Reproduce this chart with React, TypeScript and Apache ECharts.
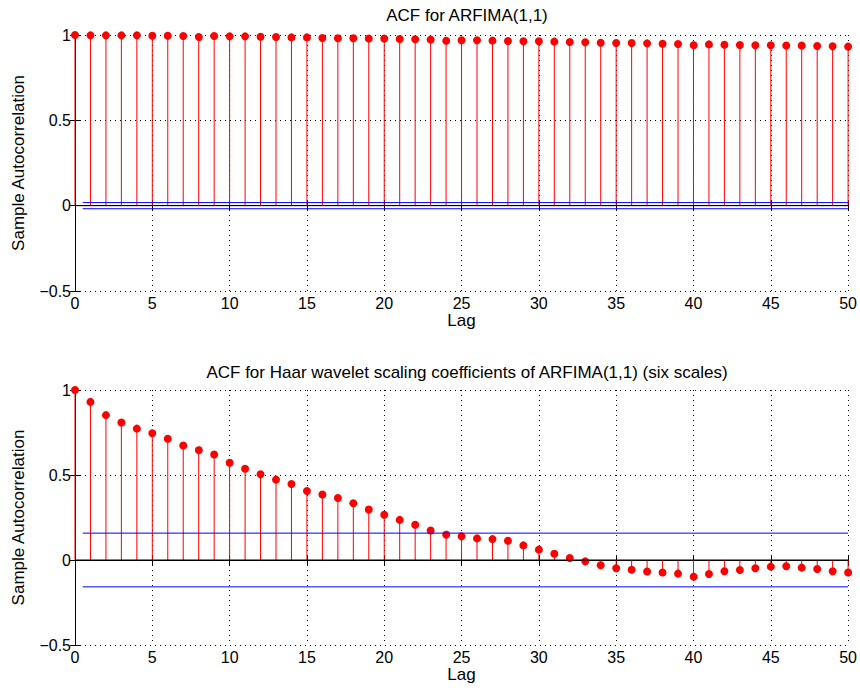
import React, { useEffect, useRef } from "react";
import * as echarts from "echarts";

const lags: number[] = Array.from({ length: 51 }, (_, i) => i);

const acfArfima: number[] = [
  1.0, 0.998, 0.998, 0.998, 0.998, 0.996, 0.996, 0.994, 0.994, 0.994,
  0.992, 0.992, 0.99, 0.988, 0.986, 0.986, 0.982, 0.981, 0.981, 0.979,
  0.979, 0.977, 0.975, 0.973, 0.971, 0.969, 0.969, 0.967, 0.965, 0.963,
  0.963, 0.961, 0.959, 0.957, 0.955, 0.953, 0.953, 0.951, 0.949, 0.947,
  0.947, 0.945, 0.943, 0.941, 0.94, 0.94, 0.938, 0.938, 0.936, 0.934,
  0.932,
];

const acfHaar: number[] = [
  1.0, 0.93, 0.852, 0.809, 0.773, 0.746, 0.713, 0.674, 0.652, 0.621,
  0.572, 0.537, 0.504, 0.473, 0.447, 0.406, 0.385, 0.365, 0.334, 0.297,
  0.266, 0.236, 0.207, 0.174, 0.154, 0.139, 0.127, 0.123, 0.113, 0.086,
  0.061, 0.037, 0.012, -0.008, -0.031, -0.049, -0.057, -0.068, -0.074, -0.08,
  -0.092, -0.082, -0.066, -0.059, -0.049, -0.039, -0.037, -0.045, -0.053, -0.066,
  -0.074,
];

const boundArfima = 0.018;
const boundHaar = 0.158;
const boundStart = 0.5;
const xTicks = [0, 5, 10, 15, 20, 25, 30, 35, 40, 45, 50];
const yTicks = [-0.5, 0, 0.5, 1];

const titles = [
  "ACF for ARFIMA(1,1)",
  "ACF for Haar wavelet scaling coefficients of ARFIMA(1,1) (six scales)",
];

const FONT = "Liberation Sans, Arial, Helvetica, sans-serif";
const TICK_FS = 16;
const LABEL_FS = 17;

export default function App() {
  const ref = useRef<HTMLDivElement>(null);

  useEffect(() => {
    if (!ref.current) return;
    const chart = echarts.init(ref.current, null, { renderer: "svg" });

    const grids = [
      { left: 75, right: 11, top: 35, height: 256 },
      { left: 75, right: 11, top: 390, height: 255 },
    ];

    const mkX = (gi: number, pos: "bottom" | "top") => ({
      type: "value",
      gridIndex: gi,
      position: pos,
      min: xTicks[0],
      max: xTicks[xTicks.length - 1],
      interval: 5,
      name: pos === "bottom" ? "Lag" : "",
      nameLocation: "middle",
      nameGap: 21,
      nameTextStyle: { color: "#000", fontSize: LABEL_FS, fontFamily: FONT },
      axisLine: { show: true, lineStyle: { color: "#000", width: 1 } },
      axisTick: { show: true, inside: true, length: 5, lineStyle: { color: "#000" } },
      axisLabel: {
        show: pos === "bottom",
        color: "#000",
        fontSize: TICK_FS,
        fontFamily: FONT,
        margin: 4,
      },
      splitLine: {
        show: pos === "bottom",
        lineStyle: { color: "#000", type: [1, 4], width: 1 },
      },
    });

    const mkY = (gi: number, pos: "left" | "right") => ({
      type: "value",
      gridIndex: gi,
      position: pos,
      min: yTicks[0],
      max: yTicks[yTicks.length - 1],
      interval: 0.5,
      name: pos === "left" ? "Sample Autocorrelation" : "",
      nameLocation: "middle",
      nameGap: 48,
      nameTextStyle: { color: "#000", fontSize: LABEL_FS, fontFamily: FONT },
      axisLine: { show: true, lineStyle: { color: "#000", width: 1 } },
      axisTick: { show: true, inside: true, length: 5, lineStyle: { color: "#000" } },
      axisLabel: {
        show: pos === "left",
        color: "#000",
        fontSize: TICK_FS,
        fontFamily: FONT,
        margin: 4,
        formatter: (v: number) => (v < 0 ? "\u2212" + String(-v) : String(v)),
      },
      splitLine: {
        show: pos === "left",
        lineStyle: { color: "#000", type: [1, 4], width: 1 },
      },
    });

    const stemSeries = (data: number[], gi: number) => ({
      type: "custom",
      xAxisIndex: gi * 2,
      yAxisIndex: gi * 2,
      z: 3,
      data: lags.map((l, i) => [l, data[i]]),
      renderItem: (params: any, api: any) => {
        const x = api.value(0);
        const y = api.value(1);
        const p0 = api.coord([x, 0]);
        const p1 = api.coord([x, y]);
        return {
          type: "group",
          children: [
            {
              type: "line",
              shape: { x1: p0[0], y1: p0[1], x2: p1[0], y2: p1[1] },
              style: { stroke: "#ff0000", lineWidth: 1 },
            },
            {
              type: "circle",
              shape: { cx: p1[0], cy: p1[1], r: 4 },
              style: { fill: "#ff0000" },
            },
          ],
        };
      },
    });

    const hLine = (y: number, x0: number, color: string, gi: number, z: number) => ({
      type: "line",
      xAxisIndex: gi * 2,
      yAxisIndex: gi * 2,
      data: [
        [x0, y],
        [xTicks[xTicks.length - 1], y],
      ],
      symbol: "none",
      z,
      lineStyle: { color, width: 1 },
      silent: true,
    });

    chart.setOption({
      animation: false,
      backgroundColor: "#fff",
      title: titles.map((t, i) => ({
        text: t,
        left: 462,
        top: i === 0 ? 2 : 359,
        textAlign: "center",
        textStyle: { color: "#000", fontSize: LABEL_FS, fontWeight: "normal", fontFamily: FONT },
      })),
      grid: grids,
      xAxis: [mkX(0, "bottom"), mkX(0, "top"), mkX(1, "bottom"), mkX(1, "top")],
      yAxis: [mkY(0, "left"), mkY(0, "right"), mkY(1, "left"), mkY(1, "right")],
      series: [
        stemSeries(acfArfima, 0),
        hLine(0, xTicks[0], "#000", 0, 4),
        hLine(boundArfima, boundStart, "#0000ff", 0, 5),
        hLine(-boundArfima, boundStart, "#0000ff", 0, 5),
        stemSeries(acfHaar, 1),
        hLine(0, xTicks[0], "#000", 1, 4),
        hLine(boundHaar, boundStart, "#0000ff", 1, 5),
        hLine(-boundHaar, boundStart, "#0000ff", 1, 5),
      ],
    });

    return () => chart.dispose();
  }, []);

  return (
    <div
      ref={ref}
      style={{ position: "fixed", left: 0, top: 0, width: 860, height: 692, background: "#fff" }}
    />
  );
}
